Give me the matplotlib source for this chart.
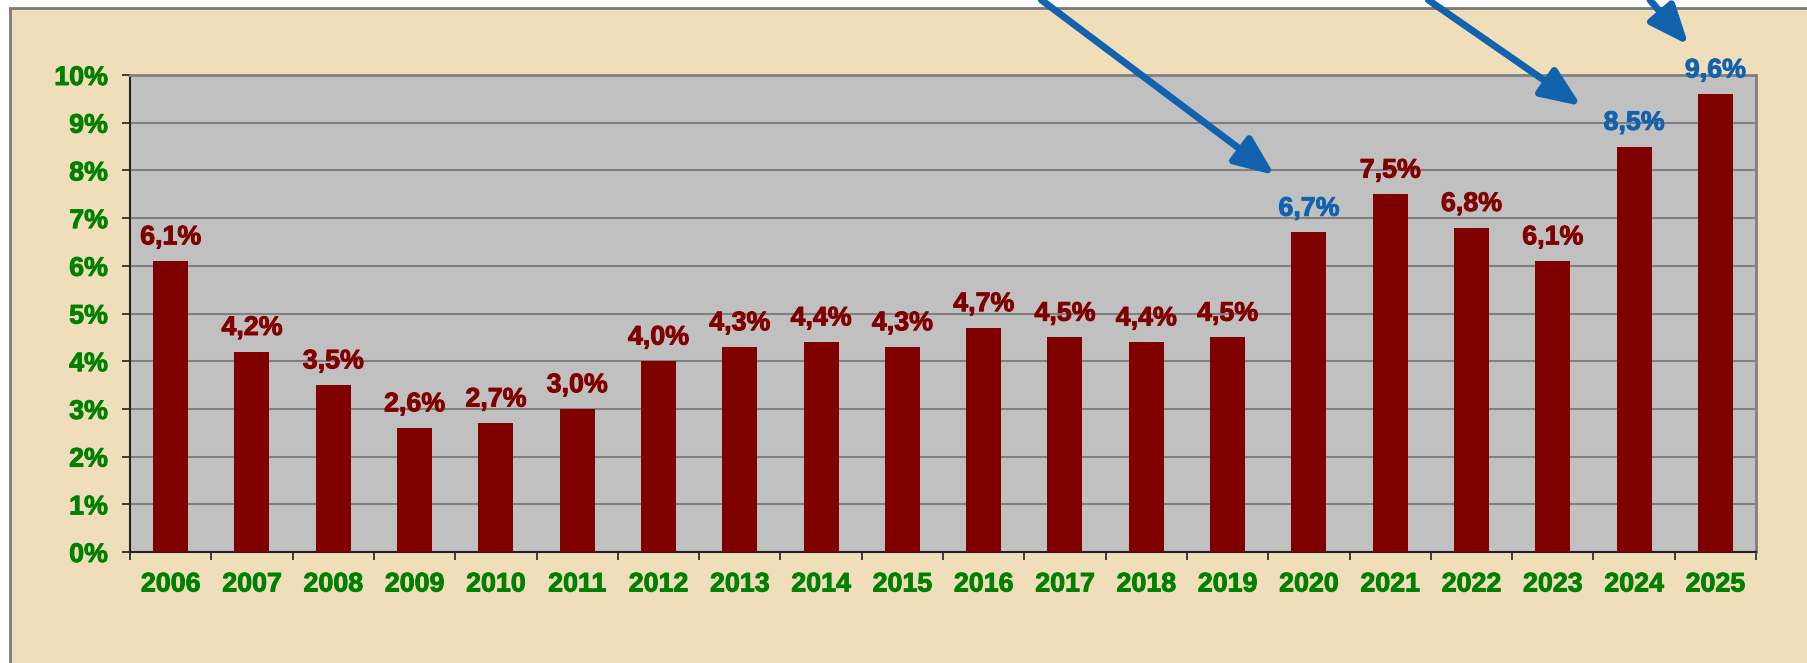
import matplotlib
matplotlib.use("Agg")
from matplotlib import pyplot as plt
from matplotlib.patches import Rectangle
import matplotlib.patheffects as pe

# data
years = ["2006", "2007", "2008", "2009", "2010", "2011", "2012", "2013", "2014", "2015",
         "2016", "2017", "2018", "2019", "2020", "2021", "2022", "2023", "2024", "2025"]
values = [6.1, 4.2, 3.5, 2.6, 2.7, 3.0, 4.0, 4.3, 4.4, 4.3,
          4.7, 4.5, 4.4, 4.5, 6.7, 7.5, 6.8, 6.1, 8.5, 9.6]
highlight = ["2020", "2024", "2025"]  # blue labels, pointed at by arrows
y_ticks = [0, 1, 2, 3, 4, 5, 6, 7, 8, 9, 10]

bar_color = "#800000"
green = "#008000"
blue = "#1262AE"
paper = "#F0DEBA"

plt.rcParams["font.family"] = ["Liberation Sans", "DejaVu Sans"]
plt.rcParams["font.weight"] = "bold"
fs = 19.3


def thicken(c):
    # a thin stroke so the text reads as heavy as in the original
    return [pe.withStroke(linewidth=0.7, foreground=c)]


fig = plt.figure(figsize=(18.08, 6.63), dpi=100)
fig.patch.set_facecolor("white")

# parchment frame, cut off at right and bottom
frame = Rectangle((10 / 1808, -0.05), 1.1, 1.05 - 8 / 663,
                  transform=fig.transFigure, facecolor=paper,
                  edgecolor="#7a7a7a", linewidth=2, zorder=-10)
fig.patches.append(frame)

ax = fig.add_axes([130 / 1808, 1 - 552 / 663, 1626 / 1808, 477 / 663])
ax.set_zorder(1)
ax.set_facecolor("#C0C0C0")

x = list(range(len(years)))
ax.bar(x, values, width=0.43, color=bar_color, zorder=3)

ax.set_xlim(-0.5, len(years) - 0.5)
ax.set_ylim(0, 10)

# horizontal gridlines
ax.set_yticks(y_ticks)
ax.set_yticklabels([f"{t}%" for t in y_ticks])
ax.yaxis.grid(True, color="#808080", linewidth=1.5, zorder=1)
ax.set_axisbelow(True)

ax.set_xticks(x)
ax.set_xticklabels(years)
ax.set_xticks([i - 0.5 for i in range(len(years) + 1)], minor=True)
ax.tick_params(axis="x", which="major", length=0, pad=14, labelsize=fs, labelcolor=green)
ax.tick_params(axis="x", which="minor", length=6, width=1.2, color="#222222")
ax.tick_params(axis="y", length=6, width=1.2, color="#222222", pad=10,
               labelsize=fs, labelcolor=green)
for lbl in ax.get_xticklabels() + ax.get_yticklabels():
    lbl.set_path_effects(thicken(green))

for side in ["left", "bottom"]:
    ax.spines[side].set_color("#222222")
    ax.spines[side].set_linewidth(1.5)
for side in ["top", "right"]:
    ax.spines[side].set_color("#808080")
    ax.spines[side].set_linewidth(2)

# value labels
for xi, yr, v in zip(x, years, values):
    c = blue if yr in highlight else bar_color
    ax.annotate(f"{v:.1f}%".replace(".", ","), xy=(xi, v), xytext=(0, 12),
                textcoords="offset points", ha="center", va="baseline",
                fontsize=fs, fontweight="bold", color=c, zorder=5,
                annotation_clip=False, path_effects=thicken(c))

# blue arrows coming in from above the frame
arrow_tips = {"2020": (-0.42, 1.2), "2024": (-0.65, 0.85), "2025": (-0.33, 1.03)}
arrow_starts = {"2020": 0.576, "2024": 0.790, "2025": 0.9126}
for yr in highlight:
    i = years.index(yr)
    dx, dy = arrow_tips[yr]
    ax.annotate("", xy=(i + dx, values[i] + dy), xycoords="data",
                xytext=(arrow_starts[yr], 1.0), textcoords="figure fraction",
                arrowprops=dict(arrowstyle="-|>,head_length=1.2,head_width=0.5",
                                color=blue, lw=5, mutation_scale=20,
                                shrinkA=0, shrinkB=0),
                annotation_clip=False, zorder=6)

fig.savefig("out.png", dpi=100)
